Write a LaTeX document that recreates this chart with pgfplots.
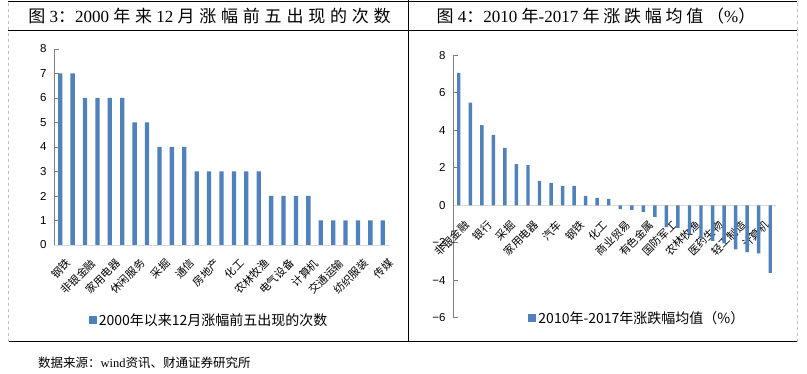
\documentclass[border=0pt]{standalone}
\usepackage{fontspec}
\setmainfont{Liberation Serif}
\newfontfamily\cjk{Noto Sans CJK SC}
\newfontfamily\cjkt[LetterSpace=28]{Noto Sans CJK SC}
\newfontfamily\cjktr[LetterSpace=22]{Noto Sans CJK SC}
\newfontfamily\arial{Liberation Sans}
\usepackage{pgfplots}
\pgfplotsset{compat=1.18}
\definecolor{barblue}{HTML}{4F81BD}

\begin{document}
\begin{tikzpicture}[x=1pt,y=1pt]
\path[use as bounding box, fill=white] (0,0) rectangle (807,374);
% frame
\draw[black, line width=1pt] (8,372.5) -- (797,372.5);
\draw[black, line width=0.8pt] (8,344) -- (797,344);
\draw[black, line width=1pt] (8,32) -- (797,32);
\draw[black, line width=0.8pt] (408,32) -- (408,374);
\draw[gray!50, dashed, line width=0.5pt] (8,32) -- (8,372);
\draw[gray!50, dashed, line width=0.5pt] (797,32) -- (797,372);
% titles
\node[anchor=center, inner sep=0pt] at (209.5,357.5) {\fontsize{17}{17}\selectfont{\cjkt 图} 3{\cjkt ：}2000 {\cjkt 年来} 12 {\cjkt 月涨幅前五出现的次数}};
\node[anchor=center, inner sep=0pt] at (596,357.5) {\fontsize{17}{17}\selectfont{\cjktr 图} 4{\cjktr ：}2010 {\cjktr 年}-2017 {\cjktr 年涨跌幅均值（}\%{\cjktr ）}};
% source
\node[anchor=west, inner sep=0pt] at (38,11) {\fontsize{12.5}{12.5}\selectfont{\cjk 数据来源：}wind{\cjk 资讯、财通证券研究所}};

\begin{axis}[
  at={(54pt,129pt)}, anchor=south west, scale only axis,
  width=335pt, height=196pt,
  xmin=-0.5, xmax=26.5, ymin=0, ymax=8,
  axis x line*=bottom, axis y line*=left,
  x axis line style={draw=black!15, line width=0.8pt},
  y axis line style={draw=gray, line width=0.8pt},
  ytick={0,1,...,8}, tick align=inside, major tick length=5pt,
  ytick style={draw=gray, line width=0.8pt},
  xtick={0,2,...,26}, xtick style={draw=none},
  xticklabels={钢铁,非银金融,家用电器,休闲服务,采掘,通信,房地产,化工,农林牧渔,电气设备,计算机,交通运输,纺织服装,传媒},
  xticklabel style={font=\cjk\fontsize{10.8}{10.8}\selectfont, rotate=45, anchor=east, inner sep=0pt, yshift=-14pt, xshift=-2pt},
  yticklabel style={font=\arial\fontsize{11.5}{11.5}\selectfont, xshift=-4pt},
  /pgf/number format/assume math mode=true,
  ybar, bar width=4.3pt, bar shift=0pt,
  legend style={at={(0.463,-0.383)}, anchor=center, draw=none, fill=none,
    font=\cjk\fontsize{14}{14}\selectfont},
]
\addplot[fill=barblue, draw=none,
  legend image code/.code={\fill[barblue] (0pt,-4pt) rectangle (8pt,4pt);}]
  coordinates {(0,7) (1,7) (2,6) (3,6) (4,6) (5,6) (6,5) (7,5) (8,4) (9,4) (10,4)
  (11,3) (12,3) (13,3) (14,3) (15,3) (16,3) (17,2) (18,2) (19,2) (20,2)
  (21,1) (22,1) (23,1) (24,1) (25,1) (26,1)};
\addlegendentry{2000年以来12月涨幅前五出现的次数}
\end{axis}

\begin{axis}[
  at={(453pt,56.2pt)}, anchor=south west, scale only axis,
  width=323pt, height=262.5pt,
  xmin=-0.5, xmax=27.5, ymin=-6, ymax=8,
  axis x line*=middle, axis y line*=left,
  hide obscured x ticks=false, hide obscured y ticks=false,
  x axis line style={draw=black!15, line width=0.8pt},
  y axis line style={draw=gray, line width=0.8pt},
  ytick={-6,-4,...,8}, yticklabels={−6,−4,−2,0,2,4,6,8},
  tick align=inside, major tick length=5pt,
  ytick style={draw=gray, line width=0.8pt},
  xtick={0,2,...,26}, xtick style={draw=none},
  xticklabels={非银金融,银行,采掘,家用电器,汽车,钢铁,化工,商业贸易,有色金属,国防军工,农林牧渔,医药生物,轻工制造,计算机},
  xticklabel style={font=\cjk\fontsize{10.8}{10.8}\selectfont, rotate=45, anchor=east, inner sep=0pt, yshift=-15pt, xshift=-3pt},
  yticklabel style={font=\arial\fontsize{11.5}{11.5}\selectfont, xshift=-4pt},
  ybar, bar width=3.4pt, bar shift=0pt,
  legend style={at={(0.571,0.0)}, anchor=center, draw=none, fill=none,
    font=\cjk\fontsize{14}{14}\selectfont},
]
\addplot[fill=barblue, draw=none,
  legend image code/.code={\fill[barblue] (0pt,-4pt) rectangle (8pt,4pt);}]
  coordinates {(0,7.06) (1,5.47) (2,4.28) (3,3.75) (4,3.06) (5,2.2) (6,2.14)
  (7,1.3) (8,1.2) (9,1.03) (10,1.03) (11,0.5) (12,0.39) (13,0.34)
  (14,-0.2) (15,-0.25) (16,-0.37) (17,-0.62) (18,-1.16) (19,-1.21) (20,-1.55)
  (21,-1.74) (22,-1.9) (23,-2.03) (24,-2.35) (25,-2.5) (26,-2.56) (27,-3.6)};
\addlegendentry{2010年-2017年涨跌幅均值（\%）}
\end{axis}
\end{tikzpicture}
\end{document}
